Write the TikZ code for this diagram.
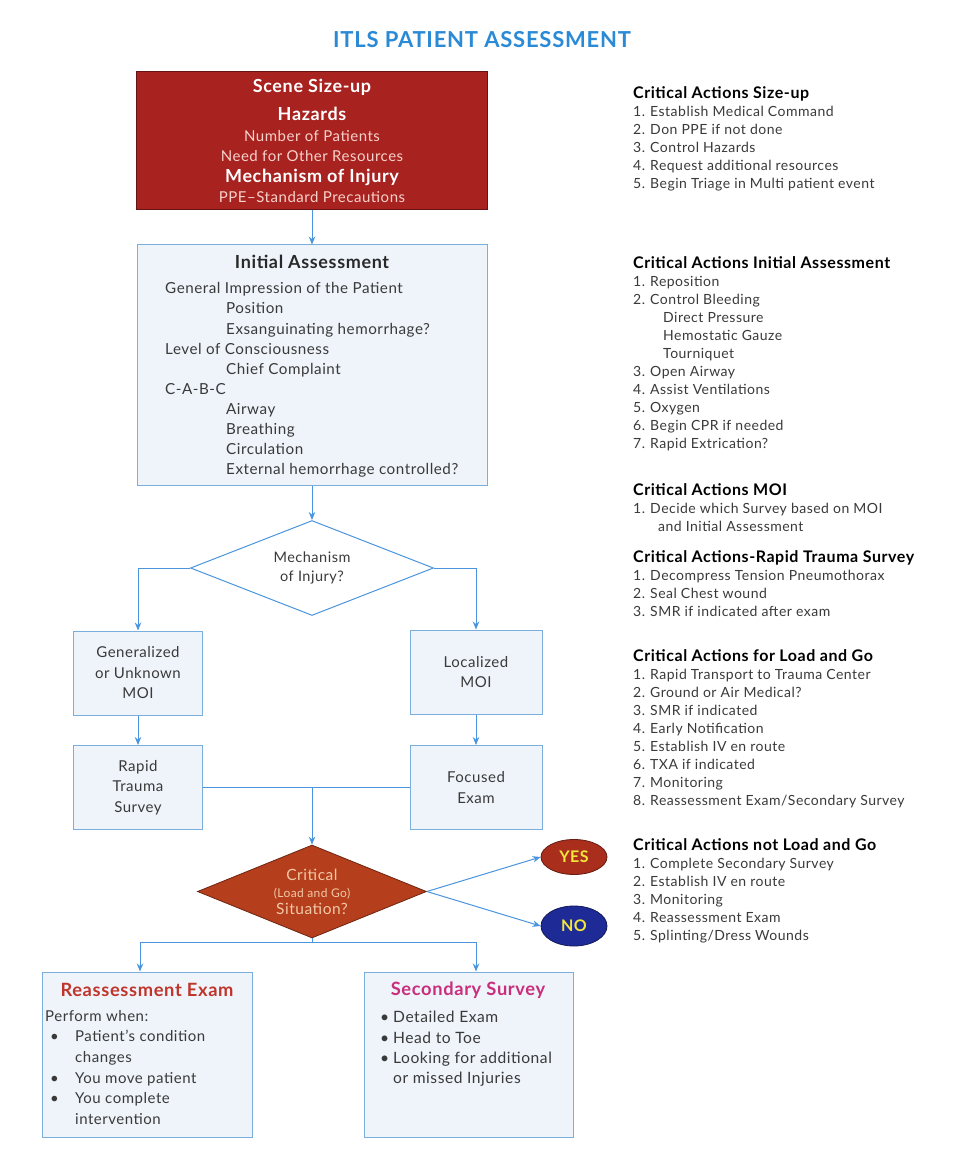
\documentclass[tikz,border=0pt]{standalone}
\usepackage{fontspec}
\setmainfont{Lato}[LetterSpace=3.5]
\usetikzlibrary{shapes.geometric,arrows.meta}
\definecolor{lineblue}{HTML}{4A95DE}
\definecolor{boxfill}{HTML}{EEF4FA}
\definecolor{boxline}{HTML}{7AAEDD}
\definecolor{scenered}{HTML}{A8221F}
\definecolor{critred}{HTML}{B53E1C}
\definecolor{yesred}{HTML}{A92E1C}
\definecolor{noblue}{HTML}{1E2A96}
\definecolor{titleblue}{HTML}{2B8AD6}
\definecolor{pinktext}{HTML}{F7D2CB}
\definecolor{peach}{HTML}{F3C9A6}
\definecolor{yestext}{HTML}{F2E63A}
\definecolor{txt}{HTML}{3A3A3A}
\definecolor{reassred}{HTML}{C0352B}
\definecolor{secmag}{HTML}{C92E7C}
\newcommand\fs[2]{\fontsize{#1}{#2}\selectfont}
\newcommand\nm[1]{\makebox[17pt][l]{#1}}
\newcommand\bl[1]{\hspace*{4pt}\makebox[13pt][l]{\textbullet}#1}
\newcommand\rbl[1]{\hspace*{5pt}\makebox[25pt][l]{\textbullet}#1}
\newcommand\hd[1]{\textbf{\fs{16}{18}\textcolor{black}{#1}}}
\begin{document}
\begin{tikzpicture}[x=1pt,y=-1pt,
  box/.style={draw=boxline, fill=boxfill, line width=1pt, inner sep=0pt, align=center, text=txt, font=\fs{15}{20.5}},
  conn/.style={draw=lineblue, line width=1pt},
  arr/.style={conn, -{Stealth[length=8pt,width=6.5pt]}},
  rc/.style={anchor=north west, inner sep=0pt, align=left, text=txt, font=\fs{14}{18}},
  lst/.style={anchor=north west, inner sep=0pt, align=left, text=txt},
]
\fill[white] (0,0) rectangle (962,1150);
\useasboundingbox (0,0) rectangle (962,1150);

% title
\node[font=\bfseries\fs{22}{26}, text=titleblue] (title) at (482,40) {ITLS PATIENT ASSESSMENT};

% scene size-up
\node[draw=scenered!60!black, line width=1pt, fill=scenered, minimum width=351pt, minimum height=138pt,
      inner sep=0pt, align=center, text=pinktext, font=\fs{15}{20.5}] (scene) at (312,141)
 {\textcolor{white}{\bfseries\fs{18}{20}Scene Size-up}\\[7.5pt]
  \textcolor{white}{\bfseries\fs{18}{20}Hazards}\\
  Number of Patients\\
  Need for Other Resources\\
  \textcolor{white}{\bfseries\fs{18}{20}Mechanism of Injury}\\
  PPE--Standard Precautions};

% initial assessment
\node[box, minimum width=350pt, minimum height=240pt] (init) at (312,365) {};
\node[font=\bfseries\fs{18}{20}, text=txt!70!black] (initT) at (312,262) {Initial Assessment};
\node[lst, font=\fs{15.2}{20.1}] (initL) at (165,282.5)
 {General Impression of the Patient\\
  \hspace*{61pt}Position\\
  \hspace*{61pt}Exsanguinating hemorrhage?\\
  Level of Consciousness\\
  \hspace*{61pt}Chief Complaint\\
  C-A-B-C\\
  \hspace*{61pt}Airway\\
  \hspace*{61pt}Breathing\\
  \hspace*{61pt}Circulation\\
  \hspace*{61pt}External hemorrhage controlled?};

% mechanism diamond
\node[diamond, draw=lineblue, line width=1pt, fill=white, aspect=2.56, minimum width=243pt, minimum height=95pt,
      inner sep=0pt, align=center, text=txt, font=\fs{14.5}{19}] (moi) at (312,568) {Mechanism\\of Injury?};

% MOI boxes
\node[box, minimum width=129pt, minimum height=84pt] (gen) at (138,673) {Generalized\\or Unknown\\MOI};
\node[box, minimum width=132pt, minimum height=84pt] (loc) at (476,672) {Localized\\MOI};
\node[box, minimum width=129pt, minimum height=84pt] (rapid) at (138,787.5) {Rapid\\Trauma\\Survey};
\node[box, minimum width=132pt, minimum height=84pt] (focus) at (476,787.5) {Focused\\Exam};
\coordinate (mid) at (312,787.5);

% critical diamond
\node[diamond, draw=critred!60!black, line width=0.8pt, fill=critred, aspect=2.46, minimum width=229pt, minimum height=93pt,
      inner sep=0pt, align=center, text=peach, font=\fs{15.5}{17}] (crit) at (312,891.5)
 {Critical\\{\fs{12}{12}(Load and Go)}\\Situation?};

\node[ellipse, fill=yesred, draw=yesred!60!black, line width=0.8pt, minimum width=66pt, minimum height=35pt,
      inner sep=0pt, font=\bfseries\fs{16}{18}, text=yestext] (yes) at (574,857) {YES};
\node[ellipse, fill=noblue, draw=noblue!60!black, line width=0.8pt, minimum width=66pt, minimum height=40pt,
      inner sep=0pt, font=\bfseries\fs{16}{18}, text=yestext] (no) at (574,926) {NO};

% bottom boxes
\node[box, minimum width=210pt, minimum height=165pt] (reass) at (147,1054.5) {};
\node[font=\bfseries\fs{18.3}{20}, text=reassred] (reassT) at (147,990) {Reassessment Exam};
\node[lst, font=\fs{15}{20.6}] (reassL) at (45,1010)
 {Perform when:\\
  \rbl{Patient’s condition}\\
  \hspace*{30pt}changes\\
  \rbl{You move patient}\\
  \rbl{You complete}\\
  \hspace*{30pt}intervention};

\node[box, minimum width=209pt, minimum height=165pt] (sec) at (468.5,1054.5) {};
\node[font=\bfseries\fs{18.3}{20}, text=secmag] (secT) at (468,990) {Secondary Survey};
\node[lst, font=\fs{15.6}{20.4}] (secL) at (376,1011)
 {\bl{Detailed Exam}\\
  \bl{Head to Toe}\\
  \bl{Looking for additional}\\
  \hspace*{17pt}or missed Injuries};

% connectors
\draw[arr] (scene.south) -- (init.north);
\draw[arr] (init.south) -- (moi.north);
\draw[arr] (moi.west) -| (gen.north);
\draw[arr] (moi.east) -| (loc.north);
\draw[arr] (gen.south) -- (rapid.north);
\draw[arr] (loc.south) -- (focus.north);
\draw[conn] (rapid.east) -- (focus.west);
\draw[arr] (mid) -- (crit.north);
\draw[arr] (crit.east) -- (yes.west);
\draw[arr] (crit.east) -- (no.west);
\coordinate (bleft) at (140,942);
\coordinate (bright) at (476,942);
\draw[conn] (crit.south) -- (crit.south |- bleft);
\draw[conn] (bleft) -- (bright);
\draw[arr] (bleft) -- (bleft |- reass.north);
\draw[arr] (bright) -- (bright |- sec.north);

% right column
\node[rc] (ca1) at (633,86)
 {\hd{Critical Actions Size-up}\\
  \nm{1.}Establish Medical Command\\
  \nm{2.}Don PPE if not done\\
  \nm{3.}Control Hazards\\
  \nm{4.}Request additional resources\\
  \nm{5.}Begin Triage in Multi patient event};
\node[rc] (ca2) at (633,256)
 {\hd{Critical Actions Initial Assessment}\\
  \nm{1.}Reposition\\
  \nm{2.}Control Bleeding\\
  \hspace*{30pt}Direct Pressure\\
  \hspace*{30pt}Hemostatic Gauze\\
  \hspace*{30pt}Tourniquet\\
  \nm{3.}Open Airway\\
  \nm{4.}Assist Ventilations\\
  \nm{5.}Oxygen\\
  \nm{6.}Begin CPR if needed\\
  \nm{7.}Rapid Extrication?};
\node[rc] (ca3) at (633,483)
 {\hd{Critical Actions MOI}\\
  \nm{1.}Decide which Survey based on MOI\\
  \hspace*{25pt}and Initial Assessment};
\node[rc] (ca4) at (633,550)
 {\hd{Critical Actions-Rapid Trauma Survey}\\
  \nm{1.}Decompress Tension Pneumothorax\\
  \nm{2.}Seal Chest wound\\
  \nm{3.}SMR if indicated after exam};
\node[rc] (ca5) at (633,649)
 {\hd{Critical Actions for Load and Go}\\
  \nm{1.}Rapid Transport to Trauma Center\\
  \nm{2.}Ground or Air Medical?\\
  \nm{3.}SMR if indicated\\
  \nm{4.}Early Notification\\
  \nm{5.}Establish IV en route\\
  \nm{6.}TXA if indicated\\
  \nm{7.}Monitoring\\
  \nm{8.}Reassessment Exam/Secondary Survey};
\node[rc] (ca6) at (633,838)
 {\hd{Critical Actions not Load and Go}\\
  \nm{1.}Complete Secondary Survey\\
  \nm{2.}Establish IV en route\\
  \nm{3.}Monitoring\\
  \nm{4.}Reassessment Exam\\
  \nm{5.}Splinting/Dress Wounds};
\end{tikzpicture}
\end{document}
